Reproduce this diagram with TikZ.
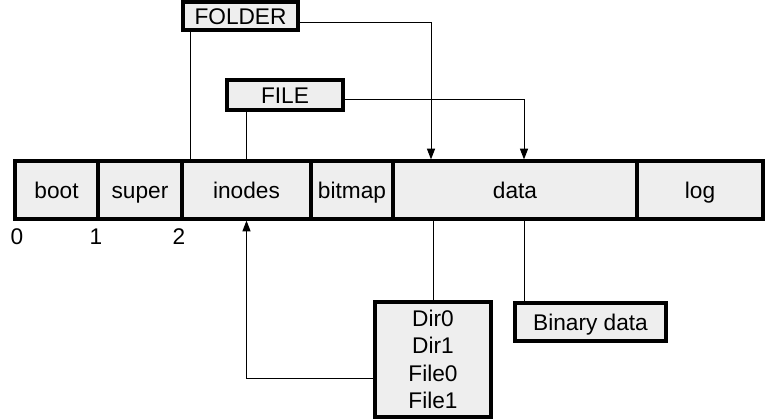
\documentclass[tikz,border=0pt]{standalone}
\usepackage{fontspec}
\setmainfont{Liberation Sans}
\usetikzlibrary{calc,arrows.meta}
\definecolor{boxfill}{HTML}{EEEEEE}
\begin{document}
\begin{tikzpicture}[x=0.75pt,y=-0.75pt,
  txt/.style={font=\fontsize{17}{20.5}\selectfont},
  cell/.style={txt,draw=black,fill=boxfill,line width=2.4pt,inner sep=0pt,
    minimum height=58*0.75pt,text height=15pt,text depth=3pt},
  lbl/.style={txt,draw=black,fill=boxfill,line width=2.4pt,inner sep=0pt},
  num/.style={txt,inner sep=0pt},
  conn/.style={draw=black,line width=0.75pt},
  arr/.style={conn,-{Triangle[length=8pt,width=6pt]}}]
\useasboundingbox (0,0) rectangle (766,418);
% main bar
\node[cell,minimum width=83*0.75pt] (boot) at (56.5,190) {boot};
\node[cell,minimum width=84*0.75pt] (super) at (140,190) {super};
\node[cell,minimum width=129*0.75pt] (inodes) at (246.5,190) {inodes};
\node[cell,minimum width=82*0.75pt] (bitmap) at (352,190) {bitmap};
\node[cell,minimum width=244*0.75pt] (data) at (515,190) {data};
\node[cell,minimum width=126*0.75pt] (log) at (700,190) {log};
% block numbers
\node[num] (n0) at (17,237) {0};
\node[num] (n1) at (96,237) {1};
\node[num] (n2) at (179,237) {2};
% labels
\node[lbl,minimum width=115*0.75pt,minimum height=28*0.75pt,text height=13pt,text depth=0pt] (FOLDER) at (240.5,16) {FOLDER};
\node[lbl,minimum width=116*0.75pt,minimum height=30*0.75pt,text height=13pt,text depth=0pt] (FILE) at (285,95) {FILE};
\node[lbl,minimum width=116*0.75pt,minimum height=115*0.75pt,align=center] (Dir) at (433,359.5) {Dir0\\Dir1\\File0\\File1};
\node[lbl,minimum width=151*0.75pt,minimum height=38*0.75pt,text height=13pt,text depth=0pt] (Bin) at (590.5,322) {Binary data};
% connectors
\coordinate (fo) at ($(FOLDER.south west)+(9,0)$);
\draw[conn] (fo) -- (fo |- inodes.north);
\draw[arr] ($(FOLDER.east)+(0,6)$) -| ($(data.north)+(-84,0)$);
\draw[conn] (FILE.south -| inodes.north) -- (inodes.north);
\draw[arr] ($(FILE.east)+(0,4)$) -| ($(data.north)+(9,0)$);
\draw[conn] (Dir.north |- data.south) -- (Dir.north);
\coordinate (bd) at ($(data.south)+(9,0)$);
\draw[conn] (bd) -- (bd |- Bin.north);
\draw[arr] ($(Dir.west)+(0,18.5)$) -| (inodes.south);
\end{tikzpicture}
\end{document}
